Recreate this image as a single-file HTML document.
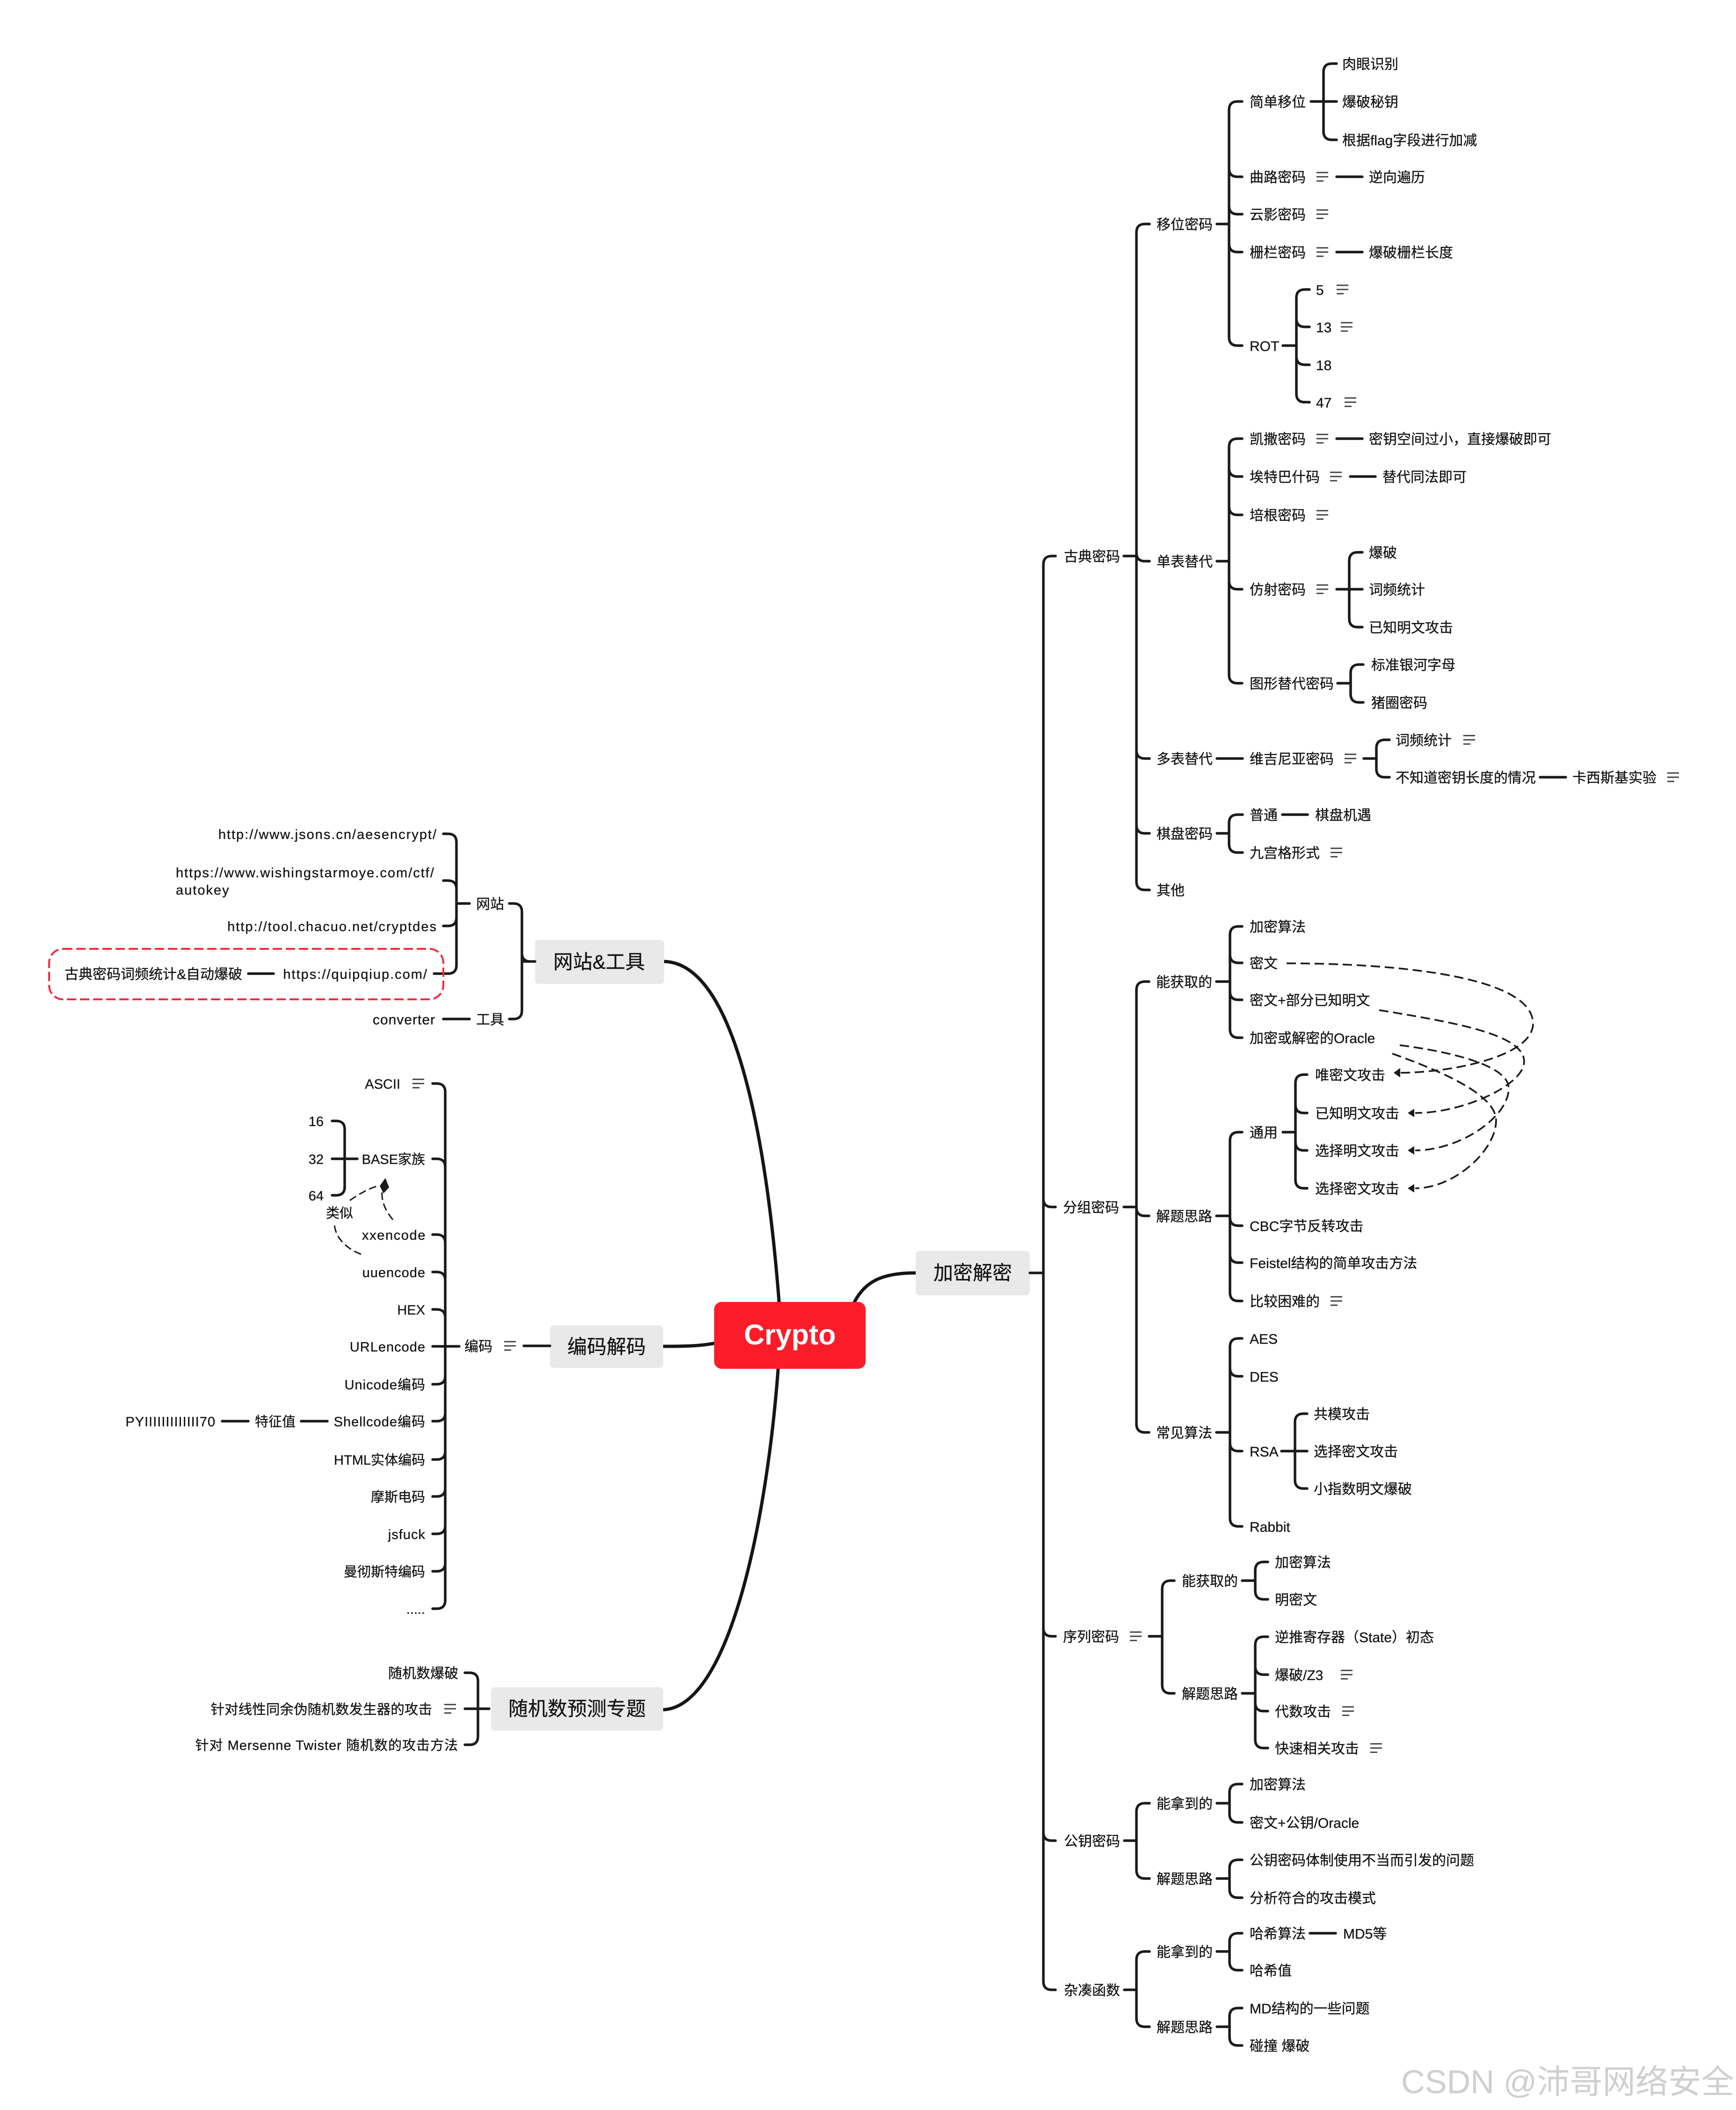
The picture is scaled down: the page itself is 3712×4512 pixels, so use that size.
<!DOCTYPE html>
<html><head><meta charset="utf-8"><title>Crypto</title>
<style>
html,body{margin:0;padding:0;background:#fff}
svg{display:block}
text{font-family:"Liberation Sans","Noto Sans CJK SC",sans-serif;font-size:30px;fill:#141414;stroke:#141414;stroke-width:.35px;dominant-baseline:central;transform:translateY(2px)}
.e{text-anchor:end}
.m{text-anchor:middle;font-size:42px;transform:none}
.l{font-size:29px}
.u{letter-spacing:2px}
.x{letter-spacing:1.6px}
.v{letter-spacing:1px}
.w{font-size:70.3px;fill:#cfcfcf;stroke:none;dominant-baseline:auto;transform:none}
.c{font-size:61px;font-weight:bold;fill:#fff;stroke:none;text-anchor:middle;dominant-baseline:auto;transform:none}
.s{fill:none;stroke:#1a1a1a;stroke-width:5.5;stroke-linecap:round}
.b{fill:none;stroke:#151515;stroke-width:7;stroke-linecap:butt}
.d{fill:none;stroke:#1a1a1a;stroke-width:3.6;stroke-dasharray:20 10}
</style></head><body>
<svg width="3712" height="4512" viewBox="0 0 3712 4512" xmlns="http://www.w3.org/2000/svg">
<defs><g id="i" fill="none" stroke="#3a3a3a" stroke-width="2.8"><path d="M0-9H25M0 0H25M0 9H15"/></g></defs>
<rect width="3712" height="4512" fill="#fff"/>

<!-- main curves -->
<path class="b" d="M1826 2786C1850 2740 1885 2722 1958 2722"/>
<path class="b" d="M1418 2879C1470 2879 1500 2878 1530 2872"/>
<path class="b" d="M1420 2056C1575 2060 1640 2450 1666 2786"/>
<path class="b" d="M1418 3656C1560 3650 1640 3250 1664 2925"/>

<rect x="1527" y="2784" width="324" height="143" rx="16" fill="#fb1c2a"/>
<text class="c" x="1689" y="2875">Crypto</text>
<rect x="1958" y="2675" width="244" height="95" rx="8" fill="#e9e9e9"/>
<text class="m" x="2080" y="2722">加密解密</text>
<rect x="1144" y="2010" width="276" height="94" rx="8" fill="#e9e9e9"/>
<text class="m" x="1281" y="2057">网站&amp;工具</text>
<rect x="1176" y="2834" width="242" height="91" rx="8" fill="#e9e9e9"/>
<text class="m" x="1297" y="2880">编码解码</text>
<rect x="1050" y="3608" width="368" height="93" rx="8" fill="#e9e9e9"/>
<text class="m" x="1234" y="3654">随机数预测专题</text>

<!-- right connectors -->
<path class="s" d="M2202 2722H2231M2257 1189H2249Q2231 1189 2231 1207V4237Q2231 4255 2249 4255H2257M2231 2563Q2231 2581 2249 2581H2257M2231 3481Q2231 3499 2249 3499H2257M2231 3918Q2231 3936 2249 3936H2257"/>
<path class="s" d="M2403 1189H2430M2458 479H2448Q2430 479 2430 497V1885Q2430 1903 2448 1903H2458M2430 1182Q2430 1200 2448 1200H2458M2430 1604Q2430 1622 2448 1622H2458M2430 1764Q2430 1782 2448 1782H2458"/>
<path class="s" d="M2602 479H2628M2656 217H2646Q2628 217 2628 235V721Q2628 739 2646 739H2656M2628 360Q2628 378 2646 378H2656M2628 440Q2628 458 2646 458H2656M2628 521Q2628 539 2646 539H2656"/>
<path class="s" d="M2803 217H2858M2858 136H2848Q2830 136 2830 154V281Q2830 299 2848 299H2858"/>
<path class="s" d="M2858 378H2913M2858 539H2913"/>
<path class="s" d="M2743 739H2772M2800 619H2790Q2772 619 2772 637V842Q2772 860 2790 860H2800M2772 681Q2772 699 2790 699H2800M2772 762Q2772 780 2790 780H2800"/>
<path class="s" d="M2602 1200H2628M2656 938H2646Q2628 938 2628 956V1443Q2628 1461 2646 1461H2656M2628 1001Q2628 1019 2646 1019H2656M2628 1083Q2628 1101 2646 1101H2656M2628 1242Q2628 1260 2646 1260H2656"/>
<path class="s" d="M2858 938H2913M2887 1019H2941"/>
<path class="s" d="M2858 1260H2913M2913 1181H2903Q2885 1181 2885 1199V1323Q2885 1341 2903 1341H2913"/>
<path class="s" d="M2860 1461H2888M2915 1421H2906Q2888 1421 2888 1439V1484Q2888 1502 2906 1502H2915"/>
<path class="s" d="M2602 1622H2657M2916 1622H2943M2971 1582H2961Q2943 1582 2943 1600V1644Q2943 1662 2961 1662H2971M3293 1662H3348"/>
<path class="s" d="M2602 1782H2628M2657 1742H2646Q2628 1742 2628 1760V1805Q2628 1823 2646 1823H2657M2742 1742H2796"/>
<path class="s" d="M2403 2581H2430M2457 2099H2448Q2430 2099 2430 2117V3045Q2430 3063 2448 3063H2457M2430 2582Q2430 2600 2448 2600H2457"/>
<path class="s" d="M2601 2099H2630M2656 1981H2648Q2630 1981 2630 1999V2201Q2630 2219 2648 2219H2656M2630 2041Q2630 2059 2648 2059H2656M2630 2120Q2630 2138 2648 2138H2656"/>
<path class="s" d="M2601 2600H2630M2656 2421H2648Q2630 2421 2630 2439V2764Q2630 2782 2648 2782H2656M2630 2603Q2630 2621 2648 2621H2656M2630 2682Q2630 2700 2648 2700H2656"/>
<path class="s" d="M2743 2421H2770M2795 2298H2788Q2770 2298 2770 2316V2523Q2770 2541 2788 2541H2795M2770 2362Q2770 2380 2788 2380H2795M2770 2442Q2770 2460 2788 2460H2795"/>
<path class="s" d="M2601 3063H2630M2656 2862H2648Q2630 2862 2630 2880V3246Q2630 3264 2648 3264H2656M2630 2925Q2630 2943 2648 2943H2656M2630 3085Q2630 3103 2648 3103H2656"/>
<path class="s" d="M2740 3103H2795M2795 3023H2787Q2769 3023 2769 3041V3165Q2769 3183 2787 3183H2795"/>
<path class="s" d="M2457 3499H2485M2511 3380H2503Q2485 3380 2485 3398V3603Q2485 3621 2503 3621H2511"/>
<path class="s" d="M2656 3380H2684M2711 3340H2702Q2684 3340 2684 3358V3402Q2684 3420 2702 3420H2711"/>
<path class="s" d="M2656 3621H2684M2711 3500H2702Q2684 3500 2684 3518V3720Q2684 3738 2702 3738H2711M2684 3563Q2684 3581 2702 3581H2711M2684 3641Q2684 3659 2702 3659H2711"/>
<path class="s" d="M2404 3936H2430M2458 3856H2448Q2430 3856 2430 3874V3999Q2430 4017 2448 4017H2458"/>
<path class="s" d="M2602 3856H2629M2656 3815H2647Q2629 3815 2629 3833V3879Q2629 3897 2647 3897H2656"/>
<path class="s" d="M2602 4017H2629M2656 3977H2647Q2629 3977 2629 3995V4040Q2629 4058 2647 4058H2656"/>
<path class="s" d="M2404 4255H2430M2458 4173H2448Q2430 4173 2430 4191V4316Q2430 4334 2448 4334H2458"/>
<path class="s" d="M2602 4173H2629M2656 4134H2647Q2629 4134 2629 4152V4195Q2629 4213 2647 4213H2656M2801 4134H2856"/>
<path class="s" d="M2602 4334H2629M2656 4294H2647Q2629 4294 2629 4312V4356Q2629 4374 2647 4374H2656"/>

<!-- left connectors -->
<path class="s" d="M1144 2056H1116M1089 1932H1098Q1116 1932 1116 1950V2161Q1116 2179 1098 2179H1089M1116 2038Q1116 2056 1134 2056"/>
<path class="s" d="M1004 1932H976M948 1783H958Q976 1783 976 1801V2064Q976 2082 958 2082H928M958 1883Q976 1883 976 1901M958 1980Q976 1980 976 1962M948 1883H958M948 1980H958"/>
<path class="s" d="M948 2179H1004M531 2082H585"/>
<path class="s" d="M1120 2878H1176M982 2879H925M925 2317H934Q952 2317 952 2335V3422Q952 3440 934 3440H925M925 2478H934Q952 2478 952 2496M925 2640H934Q952 2640 952 2658M925 2720H934Q952 2720 952 2738M925 2800H934Q952 2800 952 2818M925 2960H934Q952 2960 952 2942M925 3039H934Q952 3039 952 3021M925 3121H934Q952 3121 952 3103M925 3200H934Q952 3200 952 3182M925 3280H934Q952 3280 952 3262M925 3360H934Q952 3360 952 3342"/>
<path class="s" d="M764 2478H710M710 2397H719Q737 2397 737 2415V2538Q737 2556 719 2556H710"/>
<path class="s" d="M644 3039H700M475 3039H531"/>
<path class="s" d="M1046 3654H994M994 3577H1004Q1022 3577 1022 3595V3713Q1022 3731 1004 3731H994"/>

<!-- dashed relations -->
<path class="d" d="M2751 2060C3000 2060 3278 2090 3278 2189C3278 2260 3100 2294 2992 2294"/>
<path class="d" d="M2949 2160C3100 2185 3259 2210 3259 2270C3259 2320 3130 2380 3026 2380"/>
<path class="d" d="M2993 2235C3110 2250 3226 2280 3226 2327C3226 2390 3120 2460 3026 2460"/>
<path class="d" d="M2977 2253C3080 2290 3199 2340 3199 2396C3199 2460 3110 2541 3026 2541"/>
<path d="M2980 2294L2994 2284V2304ZM3010 2380L3024 2371V2389ZM3010 2460L3024 2451V2469ZM3010 2541L3024 2532V2550Z" fill="#1a1a1a"/>
<path class="d" style="stroke-dasharray:16 8;stroke-width:3" d="M772 2682C740 2670 715 2645 715 2615M748 2567C765 2555 790 2540 812 2535M840 2608C825 2590 815 2570 817 2547"/>
<path d="M824 2519L832 2539L820 2552L812 2536Z" fill="#1a1a1a"/>
<rect x="105" y="2029" width="843" height="108" rx="30" fill="none" stroke="#f5293b" stroke-width="4" stroke-dasharray="20 8"/>

<!-- right text -->
<text x="2275" y="1189">古典密码</text>
<text x="2273" y="2581">分组密码</text>
<text x="2273" y="3499">序列密码</text>
<text x="2275" y="3936">公钥密码</text>
<text x="2275" y="4255">杂凑函数</text>
<text x="2473" y="479">移位密码</text>
<text x="2473" y="1200">单表替代</text>
<text x="2473" y="1622">多表替代</text>
<text x="2473" y="1782">棋盘密码</text>
<text x="2473" y="1903">其他</text>
<text x="2672" y="217">简单移位</text>
<text x="2870" y="136">肉眼识别</text>
<text x="2870" y="217">爆破秘钥</text>
<text x="2870" y="299">根据flag字段进行加减</text>
<text x="2672" y="378">曲路密码</text>
<text x="2927" y="378">逆向遍历</text>
<text x="2672" y="458">云影密码</text>
<text x="2672" y="539">栅栏密码</text>
<text x="2927" y="539">爆破栅栏长度</text>
<text x="2672" y="739">ROT</text>
<text x="2814" y="619">5</text>
<text x="2814" y="699">13</text>
<text x="2814" y="780">18</text>
<text x="2814" y="860">47</text>
<text x="2672" y="938">凯撒密码</text>
<text x="2927" y="938">密钥空间过小，直接爆破即可</text>
<text x="2672" y="1019">埃特巴什码</text>
<text x="2956" y="1019">替代同法即可</text>
<text x="2672" y="1101">培根密码</text>
<text x="2672" y="1260">仿射密码</text>
<text x="2927" y="1181">爆破</text>
<text x="2927" y="1260">词频统计</text>
<text x="2927" y="1341">已知明文攻击</text>
<text x="2672" y="1461">图形替代密码</text>
<text x="2932" y="1421">标准银河字母</text>
<text x="2932" y="1502">猪圈密码</text>
<text x="2672" y="1622">维吉尼亚密码</text>
<text x="2984" y="1582">词频统计</text>
<text x="2984" y="1662">不知道密钥长度的情况</text>
<text x="3362" y="1662">卡西斯基实验</text>
<text x="2672" y="1742">普通</text>
<text x="2812" y="1742">棋盘机遇</text>
<text x="2672" y="1823">九宫格形式</text>
<text x="2472" y="2099">能获取的</text>
<text x="2472" y="2600">解题思路</text>
<text x="2472" y="3063">常见算法</text>
<text x="2672" y="1981">加密算法</text>
<text x="2672" y="2059">密文</text>
<text x="2672" y="2138">密文+部分已知明文</text>
<text x="2672" y="2219">加密或解密的Oracle</text>
<text x="2672" y="2421">通用</text>
<text x="2812" y="2298">唯密文攻击</text>
<text x="2812" y="2380">已知明文攻击</text>
<text x="2812" y="2460">选择明文攻击</text>
<text x="2812" y="2541">选择密文攻击</text>
<text x="2672" y="2621">CBC字节反转攻击</text>
<text x="2672" y="2700">Feistel结构的简单攻击方法</text>
<text x="2672" y="2782">比较困难的</text>
<text x="2672" y="2862">AES</text>
<text x="2672" y="2943">DES</text>
<text x="2672" y="3103">RSA</text>
<text x="2672" y="3264">Rabbit</text>
<text x="2809" y="3023">共模攻击</text>
<text x="2809" y="3103">选择密文攻击</text>
<text x="2809" y="3183">小指数明文爆破</text>
<text x="2527" y="3380">能获取的</text>
<text x="2527" y="3621">解题思路</text>
<text x="2726" y="3340">加密算法</text>
<text x="2726" y="3420">明密文</text>
<text x="2726" y="3500">逆推寄存器（State）初态</text>
<text x="2726" y="3581">爆破/Z3</text>
<text x="2726" y="3659">代数攻击</text>
<text x="2726" y="3738">快速相关攻击</text>
<text x="2473" y="3856">能拿到的</text>
<text x="2473" y="4017">解题思路</text>
<text x="2672" y="3815">加密算法</text>
<text x="2672" y="3897">密文+公钥/Oracle</text>
<text x="2672" y="3977">公钥密码体制使用不当而引发的问题</text>
<text x="2672" y="4058">分析符合的攻击模式</text>
<text x="2473" y="4173">能拿到的</text>
<text x="2473" y="4334">解题思路</text>
<text x="2672" y="4134">哈希算法</text>
<text x="2872" y="4134">MD5等</text>
<text x="2672" y="4213">哈希值</text>
<text x="2672" y="4294">MD结构的一些问题</text>
<text x="2672" y="4374">碰撞 爆破</text>

<!-- icons -->
<use href="#i" x="2815" y="378"/><use href="#i" x="2815" y="458"/><use href="#i" x="2815" y="539"/>
<use href="#i" x="2858" y="619"/><use href="#i" x="2867" y="699"/><use href="#i" x="2875" y="860"/>
<use href="#i" x="2815" y="938"/><use href="#i" x="2844" y="1019"/><use href="#i" x="2815" y="1101"/><use href="#i" x="2815" y="1260"/>
<use href="#i" x="2875" y="1622"/><use href="#i" x="3129" y="1582"/><use href="#i" x="3565" y="1662"/><use href="#i" x="2845" y="1823"/>
<use href="#i" x="2845" y="2782"/><use href="#i" x="2416" y="3499"/>
<use href="#i" x="2867" y="3581"/><use href="#i" x="2870" y="3659"/><use href="#i" x="2930" y="3738"/>
<use href="#i" x="882" y="2317"/><use href="#i" x="1078" y="2878"/><use href="#i" x="950" y="3654"/>

<!-- left text -->
<text class="e l u" x="935" y="1783">http://www.jsons.cn/aesencrypt/</text>
<text class="l u" x="376" y="1865">https://www.wishingstarmoye.com/ctf/</text>
<text class="l u" x="376" y="1902">autokey</text>
<text class="e l u" x="935" y="1980">http://tool.chacuo.net/cryptdes</text>
<text class="e l u" x="915" y="2082">https://quipqiup.com/</text>
<text class="e" x="518" y="2082">古典密码词频统计&amp;自动爆破</text>
<text x="1018" y="1932">网站</text>
<text x="1018" y="2179">工具</text>
<text class="e v" x="931" y="2179">converter</text>
<text x="993" y="2878">编码</text>
<text class="e l" x="856" y="2317">ASCII</text>
<text class="e l" x="909" y="2478">BASE家族</text>
<text class="e l" x="692" y="2397">16</text>
<text class="e l" x="692" y="2478">32</text>
<text class="e l" x="692" y="2556">64</text>
<text class="l" x="697" y="2593">类似</text>
<text class="e l x" x="911" y="2640">xxencode</text>
<text class="e l v" x="910" y="2720">uuencode</text>
<text class="e l" x="909" y="2800">HEX</text>
<text class="e l v" x="910" y="2879">URLencode</text>
<text class="e l v" x="910" y="2960">Unicode编码</text>
<text class="e l v" x="910" y="3039">Shellcode编码</text>
<text class="e l" x="632" y="3039">特征值</text>
<text class="e l v" x="461" y="3039">PYIIIIIIIIIIIII70</text>
<text class="e l" x="909" y="3121">HTML实体编码</text>
<text class="e l" x="909" y="3200">摩斯电码</text>
<text class="e l v" x="910" y="3280">jsfuck</text>
<text class="e l" x="909" y="3360">曼彻斯特编码</text>
<text class="e l" x="909" y="3440">.....</text>
<text class="e" x="980" y="3577">随机数爆破</text>
<text class="e" x="924" y="3654" style="font-size:29.6px">针对线性同余伪随机数发生器的攻击</text>
<text class="e l v" x="980" y="3731">针对 Mersenne Twister 随机数的攻击方法</text>

<text class="w" x="2996" y="4476">CSDN @沛哥网络安全</text>
</svg>
</body></html>
